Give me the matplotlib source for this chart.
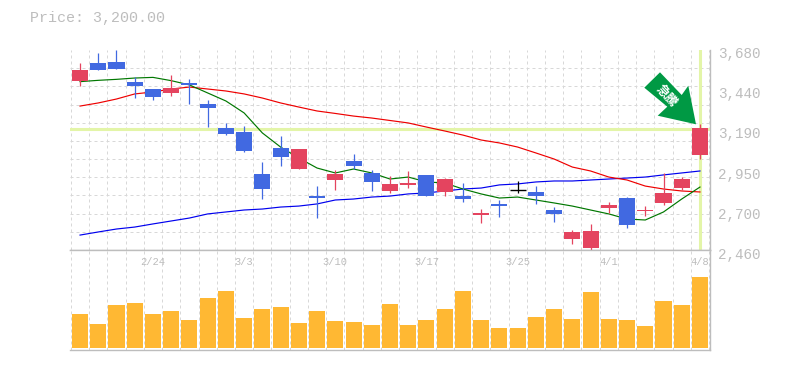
# -*- coding: utf-8 -*-
import numpy as np
import matplotlib
matplotlib.use('Agg')
import matplotlib.pyplot as plt
from matplotlib.patches import Polygon
from matplotlib.transforms import Affine2D, ScaledTranslation, blended_transform_factory

# values
opens = [3491, 3601, 3607, 3485, 3442, 3418, 3479, 3351, 3204, 3180, 2924, 3082,
         2954, 2789, 2887, 3003, 2930, 2820, 2857, 2918, 2814, 2789, 2674, 2741,
         2829, 2814, 2704, 2527, 2472, 2716, 2777, 2698, 2747, 2838, 3040]
closes = [3558, 3558, 3564, 3460, 3393, 3448, 3467, 3326, 3168, 3064, 2832, 3027,
          3076, 2777, 2924, 2972, 2875, 2863, 2869, 2789, 2893, 2771, 2686, 2728,
          2829, 2789, 2680, 2570, 2576, 2735, 2612, 2704, 2808, 2893, 3204]
highs = [3601, 3662, 3680, 3515, 3442, 3528, 3503, 3375, 3235, 3216, 2997, 3155,
         3076, 2850, 2948, 3046, 2948, 2911, 2942, 2918, 2899, 2869, 2710, 2765,
         2881, 2850, 2722, 2582, 2619, 2753, 2783, 2728, 2930, 2905, 3229]
lows = [3460, 3558, 3564, 3387, 3375, 3399, 3351, 3210, 3161, 3058, 2771, 2972,
        2954, 2655, 2826, 2954, 2820, 2808, 2838, 2789, 2789, 2753, 2625, 2661,
        2808, 2741, 2631, 2497, 2460, 2686, 2594, 2667, 2735, 2826, 3015]

ma_short = [3487, 3495, 3501, 3509, 3513, 3493, 3467, 3418, 3369, 3296, 3174, 3088,
            3021, 2960, 2930, 2954, 2930, 2893, 2905, 2875, 2869, 2832, 2802, 2777,
            2783, 2765, 2747, 2728, 2704, 2680, 2649, 2643, 2692, 2771, 2844]
ma_mid = [3338, 3357, 3381, 3412, 3424, 3442, 3454, 3442, 3430, 3412, 3387, 3357,
          3332, 3308, 3293, 3277, 3265, 3250, 3235, 3210, 3186, 3161, 3131, 3113,
          3088, 3052, 3015, 2966, 2942, 2905, 2887, 2850, 2832, 2820, 2814]
ma_long = [2551, 2570, 2588, 2600, 2619, 2637, 2655, 2680, 2692, 2704, 2710, 2722,
           2728, 2741, 2765, 2771, 2783, 2789, 2802, 2808, 2820, 2832, 2838, 2857,
           2863, 2875, 2881, 2881, 2887, 2893, 2899, 2905, 2918, 2930, 2942]

volume = [102, 72, 129, 135, 102, 111, 84, 150, 171, 90, 117, 123, 75, 111, 81, 78,
          69, 132, 69, 84, 117, 171, 84, 60, 60, 93, 117, 87, 168, 87, 84, 66, 141,
          129, 213]

current_price = 3200
price_ticks = [3680, 3436, 3192, 2948, 2704, 2460]
price_labels = ['3,680', '3,440', '3,190', '2,950', '2,700', '2,460']
date_idx = [4, 9, 14, 19, 24, 29, 34]
date_labels = ['2/24', '3/3', '3/10', '3/17', '3/25', '4/1', '4/8']

RED = '#e4445f'
BLUE = '#4169e1'
GRAY = '#bdbdbd'
GRID = '#d8d8d8'
HILITE = '#e3f5a8'
W, H = 785, 370
MONO = 'Liberation Mono'

x = np.arange(len(opens))
opens = np.array(opens)
closes = np.array(closes)
colors = ['black' if c == o else (RED if c > o else BLUE) for o, c in zip(opens, closes)]

fig = plt.figure(figsize=(W / 100, H / 100), dpi=100)
ax = fig.add_axes([70 / W, 1 - 250 / H, 640 / W, 200 / H])
ax2 = fig.add_axes([70 / W, 1 - 350 / H, 640 / W, 100 / H])

for a in (ax, ax2):
    a.set_xlim(-0.55, 34.55)
    a.set_xticks(np.arange(-0.5, 34.6, 1), minor=True)
    a.set_xticks([])
    a.grid(True, which='minor', axis='x', color=GRID, lw=0.72, ls=(0, (3, 3)))
    a.tick_params(which='both', length=0)
    a.set_axisbelow(True)
    a.spines['left'].set_visible(False)
    for s in ('right', 'bottom'):
        a.spines[s].set_color(GRAY)
        a.spines[s].set_linewidth(1.0)

# price panel
ax.spines['top'].set_visible(False)
ax.set_ylim(2460, 3680)
ax.set_yticks(np.linspace(2460, 3680, 12), minor=True)
ax.grid(True, which='minor', axis='y', color=GRID, lw=0.72, ls=(0, (3, 3)))
ax.yaxis.tick_right()
ax.set_yticks(price_ticks)
ax.set_yticklabels(price_labels, family=MONO, fontsize=10.3, color=GRAY)
ax.tick_params(axis='y', which='major', pad=6)
shift = ScaledTranslation(0, -3 / 100, fig.dpi_scale_trans)
for lab in ax.get_yticklabels():
    lab.set_transform(lab.get_transform() + shift)

ax.axhline(current_price, color=HILITE, lw=2.2, zorder=1.5)
ax.axvline(x[-1], color=HILITE, lw=2.2, zorder=1.5)

ax.plot(x, ma_long, color='#0000ee', lw=0.85, zorder=2)
ax.plot(x, ma_mid, color='#ee0000', lw=0.85, zorder=2)
ax.plot(x, ma_short, color='#007700', lw=0.85, zorder=2)

ax.vlines(x, lows, highs, colors=colors, lw=0.9, zorder=3)
ax.bar(x, closes - opens, bottom=opens, width=0.88, color=colors, edgecolor=colors,
       linewidth=[1.0 if c == 'black' else 0 for c in colors], zorder=4)

# arrow marker, placed in picture pixels
to_px = Affine2D().scale(1 / W, -1 / H).translate(0, 1) + fig.transFigure
arrow = [(644.3, 87.7), (660, 72.3), (681.7, 95), (688.3, 85.7), (696, 124.3),
         (657.7, 115.7), (667.3, 106.7)]
fig.add_artist(Polygon(arrow, closed=True, fc='#009944', ec='none', transform=to_px, zorder=6))
fig.text(666 / W, 1 - 96 / H, '急騰', family=['Noto Sans CJK JP', 'DejaVu Sans'], fontsize=9,
         fontweight='bold', color='white', rotation=-47, ha='center', va='center', zorder=7)

# volume panel
ax2.spines['top'].set_color(GRAY)
ax2.spines['top'].set_linewidth(1.0)
ax2.set_ylim(-6, 294)
ax2.set_yticks([])
ax2.bar(x, volume, width=0.88, color='#ffb833', zorder=3)
trans = blended_transform_factory(ax2.transData, ax2.transAxes)
for i, lab in zip(date_idx, date_labels):
    ax2.text(i, 0.88, lab, transform=trans, family=MONO, fontsize=7.5, color=GRAY,
             ha='center', va='center', zorder=4)

fig.text(30 / W, 1 - 18 / H, 'Price: 3,200.00', family=MONO, fontsize=10.8, color=GRAY,
         ha='left', va='center')

fig.savefig('out.png', dpi=100)
